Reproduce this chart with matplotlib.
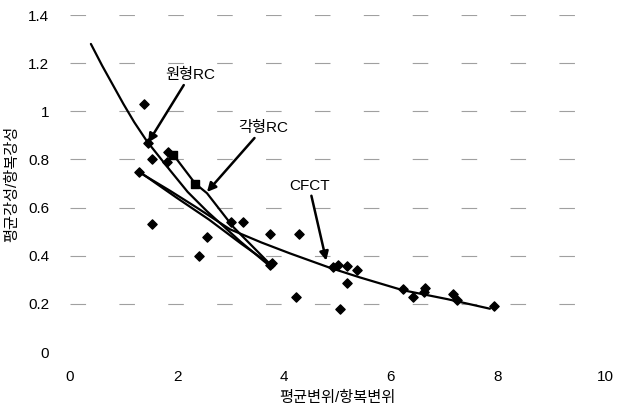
import numpy as np
import matplotlib
matplotlib.use('Agg')
import matplotlib.pyplot as plt

plt.rcParams['font.family'] = ['Liberation Sans', 'Noto Sans CJK KR', 'DejaVu Sans']

# measured points (mean displacement ratio, mean stiffness ratio)
dispRatio = [1.38, 1.46, 1.53, 1.83, 1.81, 1.29, 1.53, 2.56, 2.41, 3.01, 3.23,
             3.74, 4.28, 3.74, 3.78, 4.22, 4.92, 5.01, 5.18, 5.18, 5.04, 5.36,
             6.23, 6.41, 6.62, 6.63, 7.16, 7.24, 7.93]
stiffRatio = [1.03, 0.87, 0.80, 0.83, 0.79, 0.75, 0.53, 0.48, 0.40, 0.54, 0.54,
              0.49, 0.49, 0.36, 0.37, 0.23, 0.355, 0.36, 0.357, 0.286, 0.178, 0.34,
              0.26, 0.23, 0.25, 0.266, 0.24, 0.215, 0.19]

# square specimens
squareX = [1.93, 2.34]
squareY = [0.82, 0.70]

# trend curves
circX = [0.39, 0.60, 0.80, 1.00, 1.20, 1.44, 1.87, 2.20, 2.56, 3.18, 3.72]
circY = [1.28, 1.19, 1.11, 1.03, 0.955, 0.875, 0.755, 0.665, 0.585, 0.46, 0.36]
rectX = [1.93, 2.34, 2.56, 3.05, 3.74]
rectY = [0.82, 0.70, 0.66, 0.52, 0.365]
lineX = [1.29, 2.0, 2.6, 3.2, 3.74]
lineY = [0.75, 0.64, 0.55, 0.45, 0.365]
cfctX = [1.27, 1.87, 2.37, 2.99, 3.58, 4.11, 4.36, 4.86, 5.42, 6.22, 7.05, 7.85]
cfctY = [0.75, 0.67, 0.60, 0.51, 0.455, 0.41, 0.39, 0.35, 0.31, 0.257, 0.22, 0.18]

xTicks = [0, 2, 4, 6, 8, 10]
yTicks = [0, 0.2, 0.4, 0.6, 0.8, 1.0, 1.2, 1.4]
yTickLabels = ['0', '0.2', '0.4', '0.6', '0.8', '1', '1.2', '1.4']

fig = plt.figure(figsize=(6.17, 4.07), dpi=100)
ax = fig.add_axes([0.1135, 0.135, 0.867, 0.828])

for yv in yTicks[1:]:
    ax.axhline(yv, color='#a0a0a0', lw=0.8, dashes=(14, 30), zorder=0)

for xs, ys in [(circX, circY), (rectX, rectY), (lineX, lineY), (cfctX, cfctY)]:
    ax.plot(xs, ys, color='black', lw=1.6, solid_capstyle='round',
            solid_joinstyle='round', zorder=2)

ax.scatter(dispRatio, stiffRatio, marker='D', s=22, color='black', zorder=3)
ax.scatter(squareX, squareY, marker='s', s=30, color='black', zorder=3)

arrowProps = dict(arrowstyle='-|>', color='black', lw=1.8, mutation_scale=13,
                  shrinkA=0, shrinkB=0)
ax.annotate('원형RC', xy=(1.46, 0.87), xytext=(2.24, 1.15), fontsize=11,
            ha='center', va='center', arrowprops=arrowProps)
ax.annotate('각형RC', xy=(2.56, 0.665), xytext=(3.61, 0.93), fontsize=11,
            ha='center', va='center', arrowprops=arrowProps)
ax.annotate('CFCT', xy=(4.79, 0.38), xytext=(4.47, 0.69), fontsize=11,
            ha='center', va='center', arrowprops=arrowProps)

ax.set_xlim(0, 10)
ax.set_ylim(0, 1.4)
ax.set_xticks(xTicks)
ax.set_xticklabels([str(v) for v in xTicks], fontsize=11)
ax.set_yticks(yTicks)
ax.set_yticklabels(yTickLabels, fontsize=11)
ax.tick_params(axis='x', length=0, pad=13)
ax.tick_params(axis='y', length=0, pad=15)
for side in ax.spines.values():
    side.set_visible(False)

ax.set_xlabel('평균변위/항복변위', fontsize=11, labelpad=5)
ax.set_ylabel('평균강성/항복강성', fontsize=11, labelpad=6)

fig.savefig('out.png', dpi=100, facecolor='white')
